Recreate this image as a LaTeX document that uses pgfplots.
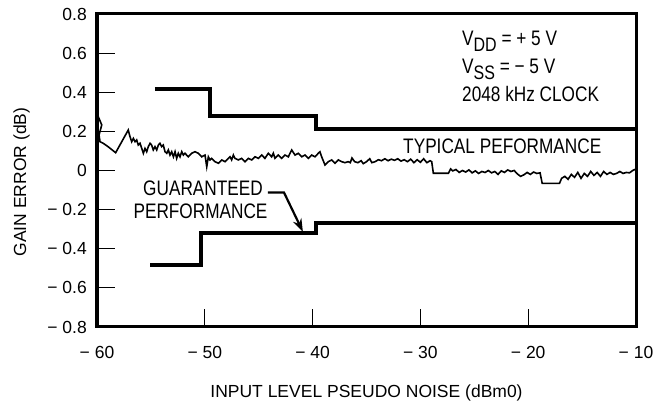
\documentclass[border=0pt]{standalone}
\usepackage{fontspec}
\setmainfont{Liberation Sans}
\newfontfamily\narrowfont[FakeStretch=0.82]{Liberation Sans}
\usepackage{pgfplots}
\pgfplotsset{compat=1.18}
\usetikzlibrary{arrows.meta}

% measured typical gain error trace
\pgfplotstableread{
x y
-60.00 0.280
-59.88 0.275
-59.56 0.233
-59.81 0.181
-59.72 0.147
-59.42 0.139
-58.98 0.122
-58.27 0.091
-57.10 0.207
-56.94 0.173
-56.78 0.147
-56.63 0.164
-56.47 0.147
-56.32 0.156
-56.17 0.130
-56.01 0.139
-55.85 0.113
-55.70 0.088
-55.55 0.113
-55.39 0.096
-55.24 0.122
-55.08 0.139
-54.93 0.130
-54.78 0.105
-54.62 0.122
-54.46 0.105
-54.31 0.130
-54.16 0.139
-54.00 0.122
-53.85 0.130
-53.69 0.096
-53.53 0.088
-53.38 0.105
-53.23 0.079
-53.07 0.096
-52.91 0.070
-52.76 0.096
-52.61 0.062
-52.46 0.088
-52.30 0.070
-52.14 0.096
-51.99 0.079
-51.84 0.088
-51.53 0.070
-51.22 0.088
-50.91 0.096
-50.60 0.088
-50.29 0.070
-49.98 0.079
-49.82 0.019
-49.67 0.070
-49.52 0.054
-49.36 0.062
-49.05 0.045
-48.74 0.037
-48.43 0.054
-48.12 0.045
-47.82 0.062
-47.66 0.070
-47.51 0.054
-47.35 0.079
-47.20 0.062
-46.89 0.054
-46.58 0.062
-46.27 0.045
-45.96 0.062
-45.65 0.054
-45.34 0.070
-45.03 0.062
-44.72 0.079
-44.42 0.062
-44.11 0.088
-43.80 0.070
-43.64 0.088
-43.49 0.062
-43.18 0.079
-42.87 0.062
-42.56 0.079
-42.25 0.070
-41.94 0.105
-41.63 0.079
-41.32 0.088
-41.01 0.070
-40.71 0.079
-40.40 0.062
-40.09 0.079
-39.78 0.070
-39.47 0.088
-39.32 0.096
-39.16 0.070
-38.85 0.028
-38.54 0.045
-38.23 0.054
-37.92 0.037
-37.61 0.054
-37.30 0.045
-37.00 0.040
-36.70 0.045
-36.50 0.040
-36.35 0.064
-36.10 0.045
-35.80 0.040
-35.50 0.050
-35.30 0.035
-35.00 0.045
-34.70 0.060
-34.50 0.040
-34.20 0.045
-33.90 0.055
-33.60 0.050
-33.30 0.060
-33.00 0.050
-32.70 0.058
-32.40 0.052
-32.10 0.060
-31.80 0.048
-31.50 0.055
-31.20 0.045
-30.90 0.058
-30.60 0.040
-30.30 0.055
-30.00 0.042
-29.70 0.060
-29.40 0.040
-29.10 0.050
-28.95 0.045
-28.80 -0.014
-28.00 -0.014
-27.40 -0.014
-27.20 0.008
-27.00 -0.002
-26.70 0.005
-26.40 -0.010
-26.10 0.000
-25.80 -0.008
-25.50 0.003
-25.20 -0.012
-24.90 -0.002
-24.60 -0.015
-24.30 -0.005
-24.00 -0.010
-23.70 0.000
-23.40 -0.012
-23.10 -0.005
-22.80 -0.020
-22.50 -0.002
-22.20 -0.010
-21.90 0.003
-21.60 -0.005
-21.30 0.000
-21.00 -0.018
-20.70 -0.030
-20.40 -0.022
-20.10 -0.010
-19.80 -0.020
-19.50 -0.008
-19.20 -0.015
-18.90 -0.012
-18.70 -0.066
-17.10 -0.066
-16.90 -0.040
-16.60 -0.030
-16.30 -0.045
-16.00 -0.020
-15.70 -0.035
-15.40 -0.010
-15.10 -0.040
-14.80 -0.015
-14.50 -0.030
-14.20 -0.005
-13.90 -0.025
-13.60 -0.010
-13.30 -0.030
-13.00 -0.005
-12.70 -0.020
-12.40 -0.010
-12.10 -0.020
-11.80 -0.015
-11.50 -0.005
-11.20 -0.015
-10.90 -0.010
-10.60 -0.012
-10.30 0.000
-10.00 0.008
}\typical

\begin{document}
\begin{tikzpicture}
\begin{axis}[
    scale only axis,
    width=539pt, height=313pt,
    xmin=-60, xmax=-10,
    ymin=-0.8, ymax=0.8,
    axis line style={line width=3pt},
    tick align=inside,
    xtick pos=bottom, ytick pos=left,
    major tick length=18pt,
    tick style={line width=1.2pt, black},
    xtick={-60,-50,-40,-30,-20,-10},
    xticklabels={−\kern0.28em60,−\kern0.28em50,−\kern0.28em40,−\kern0.28em30,−\kern0.28em20,−\kern0.28em10},
    ytick={-0.8,-0.6,-0.4,-0.2,0,0.2,0.4,0.6,0.8},
    yticklabels={−\kern0.28em0.8,−\kern0.28em0.6,−\kern0.28em0.4,−\kern0.28em0.2,0,0.2,0.4,0.6,0.8},
    tick label style={font=\fontsize{17.5}{20}\selectfont},
    xticklabel style={inner sep=0pt, anchor=north, yshift=-19pt},
    yticklabel style={inner sep=0pt, anchor=east, xshift=-10pt},
    label style={font=\fontsize{17.5}{20}\selectfont},
    xlabel={INPUT LEVEL PSEUDO NOISE (dBm0)},
    ylabel={GAIN ERROR (dB)},
    xlabel style={at={(axis description cs:0.5,-0.211)}, anchor=center},
    ylabel style={at={(axis description cs:-0.1397,0.463)}, anchor=center},
]

% guaranteed limits
\addplot[black, line width=4pt, mark=none] coordinates {
    (-54.62,0.417)(-49.52,0.417)(-49.52,0.280)(-39.68,0.280)(-39.68,0.212)(-10,0.212)
};
\addplot[black, line width=4pt, mark=none] coordinates {
    (-55.08,-0.482)(-50.35,-0.482)(-50.35,-0.320)(-39.68,-0.320)(-39.68,-0.267)(-10,-0.267)
};

% typical performance
\addplot[black, line width=1.6pt, mark=none] table[x=x, y=y] {\typical};

\node[anchor=base west, inner sep=0pt, font=\narrowfont\fontsize{21}{24}\selectfont]
    at (axis cs:-26.14,0.6364) {V\raisebox{-6pt}{\fontsize{19.5}{20}\selectfont DD} = + 5 V};
\node[anchor=base west, inner sep=0pt, font=\narrowfont\fontsize{21}{24}\selectfont]
    at (axis cs:-26.14,0.4968) {V\raisebox{-6pt}{\fontsize{19.5}{20}\selectfont SS} = − 5 V};
\node[anchor=base west, inner sep=0pt, font=\narrowfont\fontsize{21}{24}\selectfont]
    at (axis cs:-26.14,0.3516) {2048 kHz CLOCK};
\node[anchor=base west, inner sep=0pt, font=\narrowfont\fontsize{21}{24}\selectfont]
    at (axis cs:-31.61,0.0878) {TYPICAL PEFORMANCE};
\node[anchor=base west, inner sep=0pt, font=\narrowfont\fontsize{21}{24}\selectfont]
    at (axis cs:-55.73,-0.1254) {GUARANTEED};
\node[anchor=base west, inner sep=0pt, font=\narrowfont\fontsize{21}{24}\selectfont]
    at (axis cs:-56.63,-0.2445) {PERFORMANCE};

\draw[line width=2.2pt, -{Stealth[length=13pt,width=9pt]}]
    (axis cs:-44.14,-0.113) -- (axis cs:-42.65,-0.113) -- (axis cs:-40.9,-0.313);
\end{axis}
\path ([shift={(-97pt,-77pt)}]current axis.south west) rectangle ([shift={(24pt,14pt)}]current axis.north east);
\end{tikzpicture}
\end{document}
